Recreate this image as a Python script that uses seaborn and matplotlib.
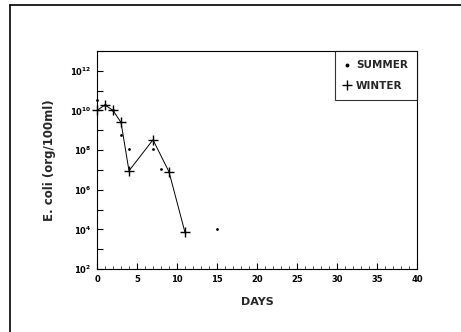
import numpy as np
import pandas as pd
import matplotlib
matplotlib.use("Agg")
import matplotlib.pyplot as plt
import matplotlib.ticker as mticker
from matplotlib.lines import Line2D
import seaborn as sns

# Data
winter_days = [0, 1, 2, 3, 4, 7, 9, 11]
winter_vals = [1.0e10, 1.9e10, 1.0e10, 2.5e9, 9e6, 3.3e8, 8e6, 7e3]
summer_days = [0, 1, 2, 3, 4, 7, 8, 15]
summer_vals = [3.5e10, 1.8e10, 1.1e10, 6e8, 1.2e8, 1.1e8, 1.1e7, 1.1e4]
x_ticks = [0, 5, 10, 15, 20, 25, 30, 35, 40]
y_exponents = [2, 4, 6, 8, 10, 12]

sns.set_theme(style="ticks")
plt.rcParams['font.family'] = ['DejaVu Sans']

fig = plt.figure(figsize=(4.61, 3.32), dpi=100)
ax = fig.add_axes([97/461, 1-269/332, 320/461, 218/332])

sns.lineplot(x=winter_days, y=winter_vals, ax=ax, color="black", lw=0.7,
             marker="+", markersize=6.5, markeredgewidth=1.0,
             markeredgecolor="black", estimator=None, clip_on=False)
sns.scatterplot(x=summer_days, y=summer_vals, ax=ax, color="black",
                marker="o", s=4, edgecolor="black", linewidth=0, clip_on=False)

ax.set_yscale("log")
ax.set_xlim(0, 40)
ax.set_ylim(1e2, 1e13)

ax.yaxis.set_major_locator(mticker.FixedLocator([10.0**e for e in range(2, 14)]))
ax.yaxis.set_minor_locator(mticker.NullLocator())
def yfmt(v, pos):
    e = int(round(np.log10(v)))
    if e in y_exponents:
        return r"$\mathbf{10^{%d}}$" % e
    return ""
ax.yaxis.set_major_formatter(mticker.FuncFormatter(yfmt))
ax.xaxis.set_major_locator(mticker.FixedLocator(x_ticks))
ax.xaxis.set_minor_locator(mticker.MultipleLocator(1))
ax.set_xticklabels([str(t) for t in x_ticks], fontweight="bold")

ax.tick_params(axis="both", which="major", direction="in", length=4, width=0.8,
               labelsize=6, colors="black", pad=4)
ax.tick_params(axis="x", which="minor", direction="in", length=2, width=0.6)
ax.tick_params(top=False, right=False, which="both")

for s in ax.spines.values():
    s.set_color("black")
    s.set_linewidth(0.8)

ax.set_xlabel("DAYS", fontsize=8, fontweight="bold", labelpad=10)
ax.set_ylabel("E. coli (org/100ml)", fontsize=8.5, fontweight="bold", labelpad=10)

handles = [
    Line2D([], [], color="black", marker="o", markersize=1.8, linestyle="None"),
    Line2D([], [], color="black", marker="+", markersize=7, linestyle="None"),
]
leg = ax.legend(handles, ["SUMMER", "WINTER"], loc="upper right",
                bbox_to_anchor=(1.0, 1.0), frameon=True, fancybox=False,
                prop={"weight": "bold", "size": 7.5}, handlelength=0.6,
                handletextpad=0.5, borderpad=0.9, labelspacing=1.0,
                borderaxespad=0)
leg.get_frame().set_edgecolor("black")
leg.get_frame().set_linewidth(0.8)

# outer frame lines (top and left)
fig.add_artist(Line2D([10/461, 10/461], [0, 1-5/332], transform=fig.transFigure,
                      color="black", lw=1.2))
fig.add_artist(Line2D([10/461, 1.0], [1-5/332, 1-5/332], transform=fig.transFigure,
                      color="black", lw=1.2))

fig.savefig("out.png", dpi=100)
